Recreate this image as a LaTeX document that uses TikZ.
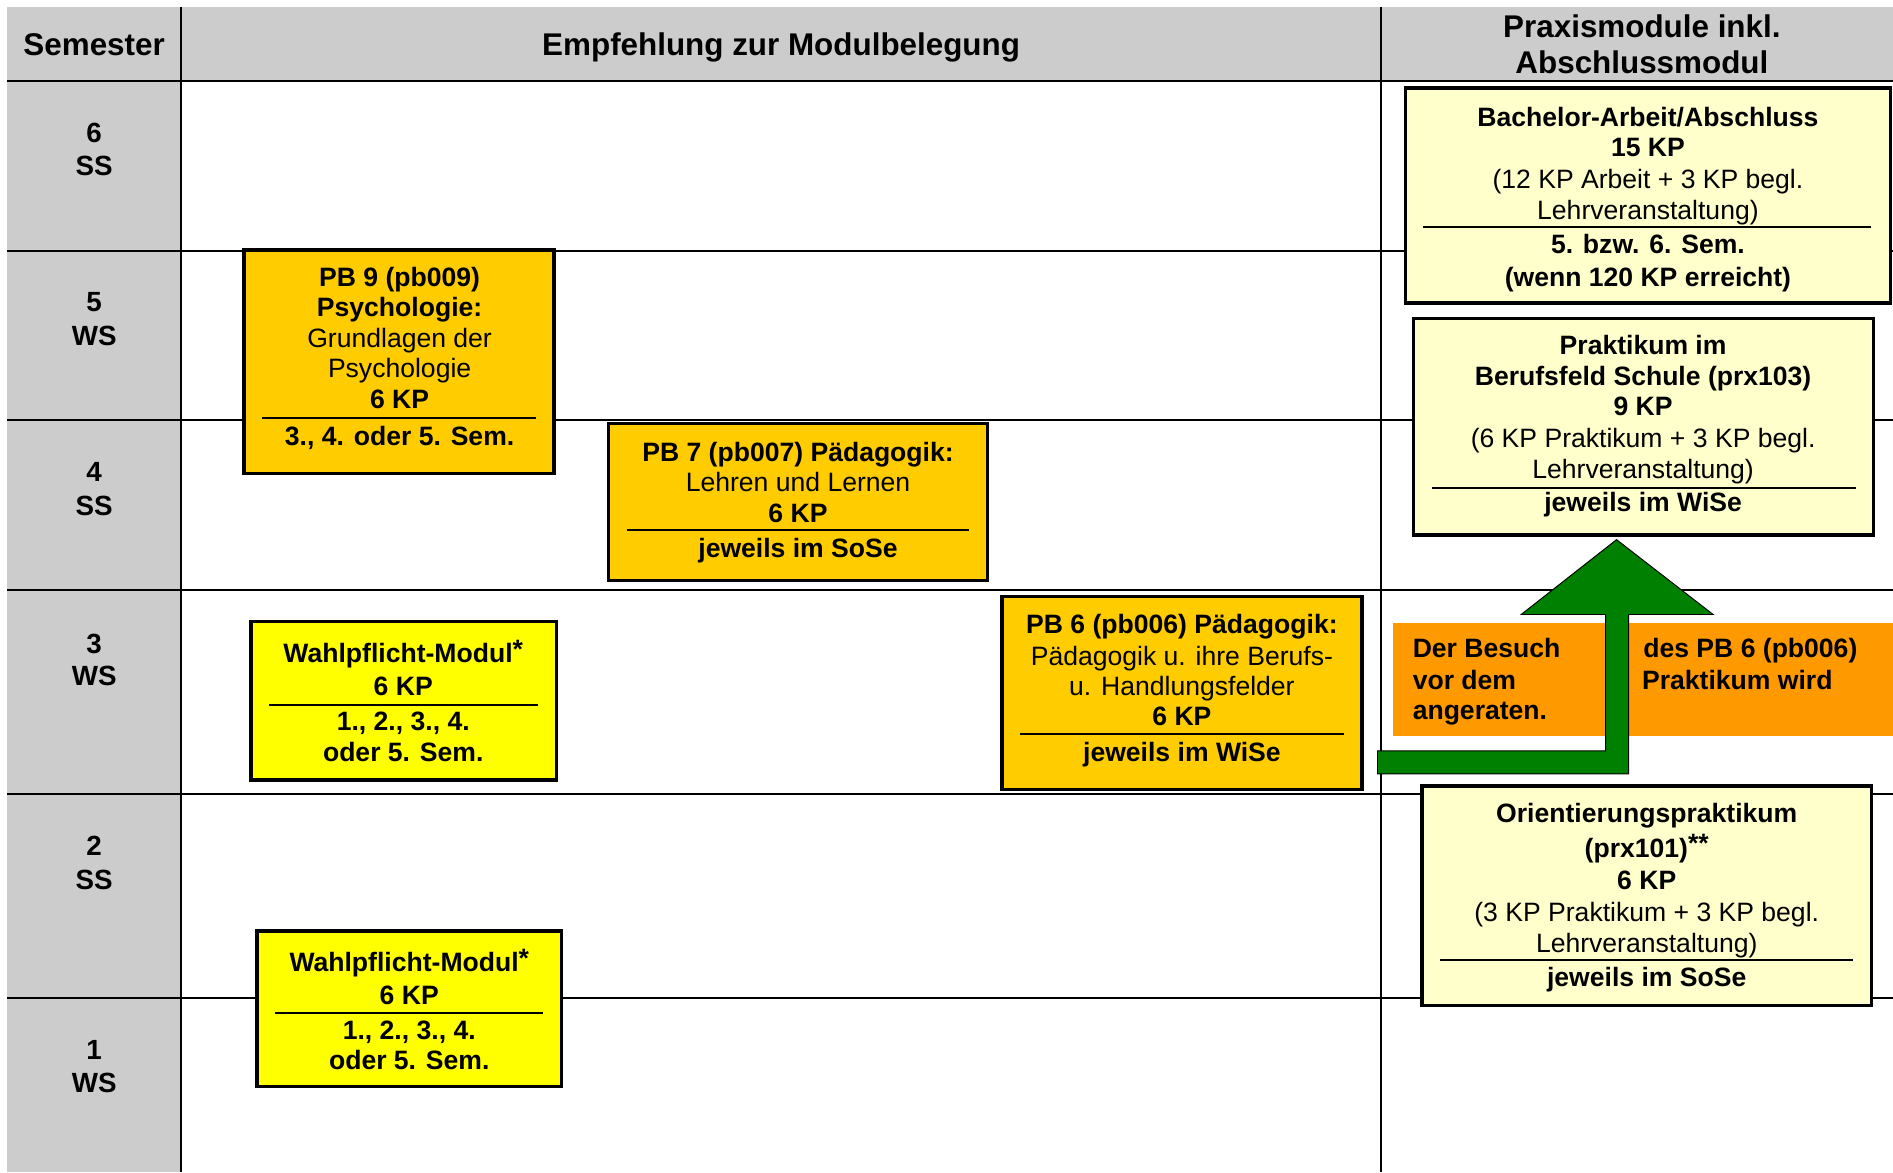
\documentclass[tikz,border=0pt]{standalone}
\usepackage{fontspec}
\setmainfont{Liberation Sans}
\definecolor{hdrgrey}{HTML}{CCCCCC}
\definecolor{gold}{HTML}{FFCC00}
\definecolor{yel}{HTML}{FFFF00}
\definecolor{lightyel}{HTML}{FFFFCC}
\definecolor{orng}{HTML}{FF9900}
\definecolor{arrgreen}{HTML}{008000}
\newcommand\hochstern[1]{\raisebox{3.5pt}{#1}}
\tikzset{
  gridline/.style={line width=1.7pt},
  modbox/.style={draw, line width=2.8pt, inner sep=0pt, outer sep=0pt, anchor=north west},
  rulel/.style={line width=1.4pt},
  hd/.style={anchor=base, font=\bfseries\fontsize{26}{30}\selectfont},
  sem/.style={anchor=base, font=\bfseries\fontsize{23}{27}\selectfont},
  bl/.style={anchor=base, inner sep=0pt, font=\bfseries\fontsize{22}{26}\selectfont},
  nl/.style={anchor=base, inner sep=0pt, font=\fontsize{22}{26}\selectfont},
  blw/.style={anchor=base west, inner sep=0pt, font=\bfseries\fontsize{22}{26}\selectfont},
}
\begin{document}
\begin{tikzpicture}[x=1pt,y=-1pt]
\useasboundingbox (0,0) rectangle (1568,971);
% grey header and semester column
\fill[hdrgrey] (6,6) rectangle (1568,67);
\fill[hdrgrey] (6,67) rectangle (150,971);
\foreach \yy in {67,208,348,489,658,827} \draw[gridline] (6,\yy) -- (1568,\yy);
\draw[gridline] (150,6) -- (150,971);
\draw[gridline] (1144,6) -- (1144,971);
% headers
\node[hd] (hsem) at (78,46) {Semester};
\node[hd] (hemp) at (647,46) {Empfehlung zur Modulbelegung};
\node[hd] (hprax1) at (1360,31) {Praxismodule inkl.};
\node[hd] (hprax2) at (1360,61) {Abschlussmodul};
% semester labels
\node[sem] (s6a) at (78,118) {6}; \node[sem] (s6b) at (78,145) {SS};
\node[sem] (s5a) at (78,258) {5}; \node[sem] (s5b) at (78,286) {WS};
\node[sem] (s4a) at (78,399) {4}; \node[sem] (s4b) at (78,427) {SS};
\node[sem] (s3a) at (78,541) {3}; \node[sem] (s3b) at (78,568) {WS};
\node[sem] (s2a) at (78,709) {2}; \node[sem] (s2b) at (78,737) {SS};
\node[sem] (s1a) at (78,878) {1}; \node[sem] (s1b) at (78,905) {WS};
% orange note
\fill[orng] (1154,516) rectangle (1568,610);
\node[blw] (n1) at (1170,545) {Der Besuch};
\node[blw] (n2) at (1170,571) {vor dem};
\node[blw] (n3) at (1170,596) {angeraten.};
\node[blw] (n4) at (1361,545) {des PB 6 (pb006)};
\node[blw] (n5) at (1360,571) {Praktikum wird};
% green arrow
\coordinate (atip) at (1339,447);
\coordinate (atail) at (1141,631.5);
\filldraw[fill=arrgreen, draw=black, line width=0.8pt]
  (atip) -- (1419,509) -- (1349,509) -- (1349,641) -- (1141,641)
  -- (1141,622) -- (1330,622) -- (1330,509) -- (1260,509) -- cycle;
% Bachelor
\node[modbox, fill=lightyel, minimum width=402pt, minimum height=178pt] (bach) at (1164,73) {};
\node[bl] (b1) at (1365,105) {Bachelor-Arbeit/Abschluss};
\node[bl] (b2) at (1365,130) {15 KP};
\node[nl] (b3) at (1365,156) {(12 KP Arbeit + 3 KP begl.};
\node[nl] (b4) at (1365,182) {Lehrveranstaltung)};
\draw[rulel] (1179,188) -- (1550,188);
\node[bl] (b5) at (1365,210) {5. bzw. 6. Sem.};
\node[bl] (b6) at (1365,237) {(wenn 120 KP erreicht)};
% Praktikum
\node[modbox, fill=lightyel, minimum width=381pt, minimum height=179pt] (prak) at (1171,264) {};
\node[bl] (p1) at (1361,294) {Praktikum im};
\node[bl] (p2) at (1361,319) {Berufsfeld Schule (prx103)};
\node[bl] (p3) at (1361,344) {9 KP};
\node[nl] (p4) at (1361,371) {(6 KP Praktikum + 3 KP begl.};
\node[nl] (p5) at (1361,396) {Lehrveranstaltung)};
\draw[rulel] (1186,404) -- (1537,404);
\node[bl] (p6) at (1361,424) {jeweils im WiSe};
% Orientierung
\node[modbox, fill=lightyel, minimum width=372pt, minimum height=182pt] (orie) at (1178,651) {};
\node[bl] (o1) at (1364,681) {Orientierungspraktikum};
\node[bl] (o2) at (1364,710) {(prx101)\hochstern{**}};
\node[bl] (o3) at (1364,737) {6 KP};
\node[nl] (o4) at (1364,763) {(3 KP Praktikum + 3 KP begl.};
\node[nl] (o5) at (1364,789) {Lehrveranstaltung)};
\draw[rulel] (1193,795) -- (1535,795);
\node[bl] (o6) at (1364,817) {jeweils im SoSe};
% PB 9
\node[modbox, fill=gold, minimum width=257pt, minimum height=185pt] (pb9) at (202,207) {};
\node[bl] (q1) at (331,237) {PB 9 (pb009)};
\node[bl] (q2) at (331,262) {Psychologie:};
\node[nl] (q3) at (331,288) {Grundlagen der};
\node[nl] (q4) at (331,313) {Psychologie};
\node[bl] (q5) at (331,338) {6 KP};
\draw[rulel] (217,346) -- (444,346);
\node[bl] (q6) at (331,369) {3., 4. oder 5. Sem.};
% PB 7
\node[modbox, fill=gold, minimum width=314pt, minimum height=130pt] (pb7) at (504,351) {};
\node[bl] (r1) at (661,382) {PB 7 (pb007) Pädagogik:};
\node[nl] (r2) at (661,407) {Lehren und Lernen};
\node[bl] (r3) at (661,433) {6 KP};
\draw[rulel] (519,439) -- (803,439);
\node[bl] (r4) at (661,462) {jeweils im SoSe};
% PB 6
\node[modbox, fill=gold, minimum width=298pt, minimum height=160pt] (pb6) at (830,494) {};
\node[bl] (t1) at (979,525) {PB 6 (pb006) Pädagogik:};
\node[nl] (t2) at (979,551) {Pädagogik u. ihre Berufs-};
\node[nl] (t3) at (979,576) {u. Handlungsfelder};
\node[bl] (t4) at (979,601) {6 KP};
\draw[rulel] (845,608) -- (1113,608);
\node[bl] (t5) at (979,631) {jeweils im WiSe};
% Wahlpflicht 3
\node[modbox, fill=yel, minimum width=253pt, minimum height=131pt] (wp3) at (208,515) {};
\node[bl] (u1) at (334,549) {Wahlpflicht-Modul\hochstern{*}};
\node[bl] (u2) at (334,576) {6 KP};
\draw[rulel] (223,584) -- (446,584);
\node[bl] (u3) at (334,605) {1., 2., 3., 4.};
\node[bl] (u4) at (334,631) {oder 5. Sem.};
% Wahlpflicht 1
\node[modbox, fill=yel, minimum width=252pt, minimum height=129pt] (wp1) at (213,771) {};
\node[bl] (v1) at (339,805) {Wahlpflicht-Modul\hochstern{*}};
\node[bl] (v2) at (339,832) {6 KP};
\draw[rulel] (228,839) -- (450,839);
\node[bl] (v3) at (339,861) {1., 2., 3., 4.};
\node[bl] (v4) at (339,886) {oder 5. Sem.};
\end{tikzpicture}
\end{document}
